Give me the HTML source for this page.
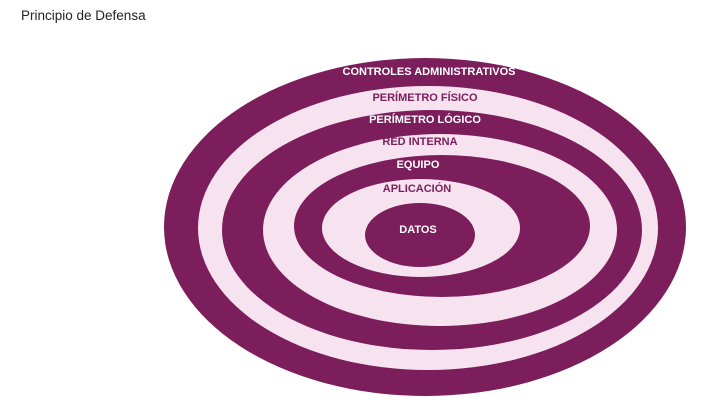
<!DOCTYPE html>
<html><head><meta charset="utf-8"><style>
html,body{margin:0;padding:0;background:#fff;width:720px;height:402px;overflow:hidden}
</style></head><body>
<svg width="720" height="402" xmlns="http://www.w3.org/2000/svg" style="display:block">
<text x="21" y="20" font-family="Liberation Sans, sans-serif" font-size="13.5" fill="#222">Principio de Defensa</text>
<g>
<ellipse cx="425" cy="227" rx="261" ry="169" fill="#7b1e5b"/>
<ellipse cx="428" cy="228" rx="230" ry="142" fill="#f7e2ef"/>
<ellipse cx="432" cy="230" rx="210" ry="120" fill="#7b1e5b"/>
<ellipse cx="440" cy="230" rx="177" ry="96" fill="#f7e2ef"/>
<ellipse cx="442" cy="226" rx="148" ry="71" fill="#7b1e5b"/>
<ellipse cx="421" cy="228" rx="99" ry="49" fill="#f7e2ef"/>
<ellipse cx="420" cy="235" rx="55" ry="32" fill="#7b1e5b"/>
</g>
<g font-family="Liberation Sans, sans-serif" font-size="11" font-weight="bold" text-anchor="middle">
<text x="429" y="75" fill="#fff">CONTROLES ADMINISTRATIVOS</text>
<text x="425" y="101" fill="#7b1e5b">PERÍMETRO FÍSICO</text>
<text x="425" y="123" fill="#fff">PERÍMETRO LÓGICO</text>
<text x="420" y="145" fill="#7b1e5b">RED INTERNA</text>
<text x="418" y="168" fill="#fff">EQUIPO</text>
<text x="417" y="192" fill="#7b1e5b">APLICACIÓN</text>
<text x="418" y="233" fill="#fff">DATOS</text>
</g>
</svg>
</body></html>
